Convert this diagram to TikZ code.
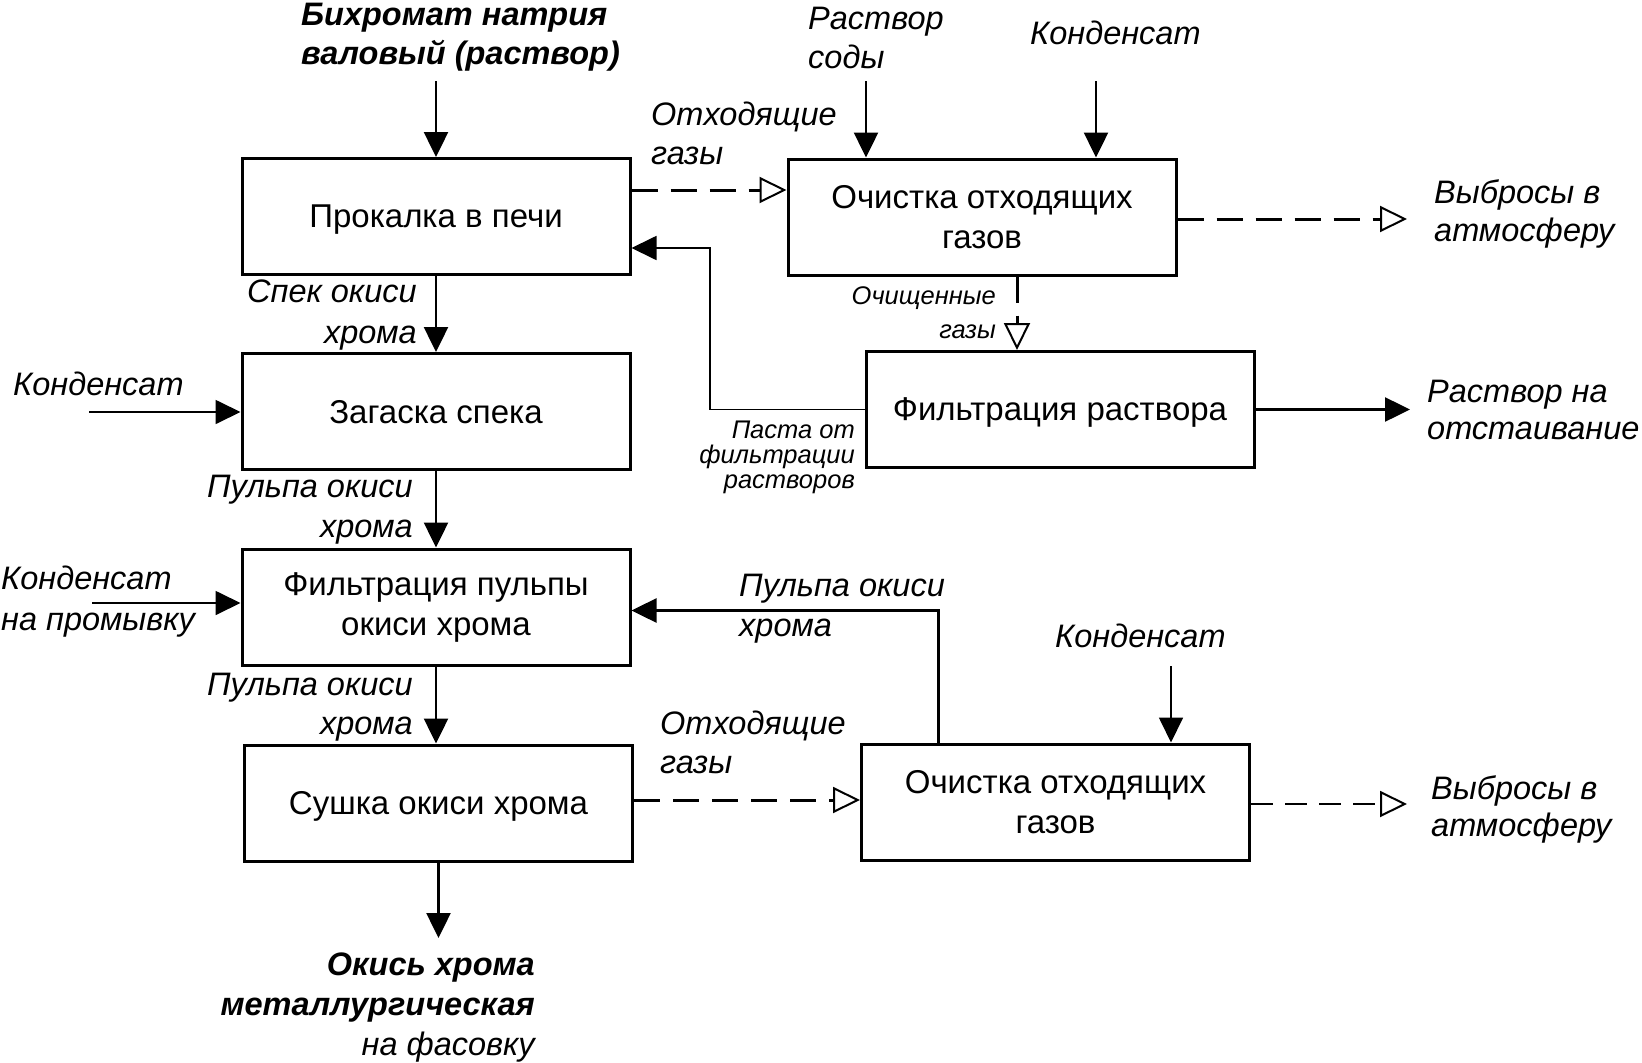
\documentclass[tikz,border=0pt]{standalone}
\usepackage{fontspec}
\setmainfont{Liberation Sans}
\usetikzlibrary{arrows.meta}
\begin{document}
\begin{tikzpicture}[x=1pt,y=-1pt,
  box/.style={draw, line width=3pt, minimum width=388pt, minimum height=116pt, inner sep=0pt, align=center, font=\fontsize{33}{40}\selectfont},
  onebox/.style={box, text depth=0pt},
  lab/.style={inner sep=0pt, font=\itshape\fontsize{32.5}{39}\selectfont},
  blab/.style={inner sep=0pt, font=\bfseries\itshape\fontsize{32.5}{39}\selectfont},
  slab/.style={inner sep=0pt, font=\itshape\fontsize{25.5}{26}\selectfont},
  arr/.style={line width=2.5pt, -{Triangle[length=25pt,width=24pt]}},
  thinarr/.style={line width=1.8pt, -{Triangle[length=25pt,width=24pt]}},
  dsh/.style={line width=3pt, dash pattern=on 26pt off 13pt, -{Triangle[length=27pt,width=26pt,fill=white,line width=2pt]}},
  dshthin/.style={line width=1.5pt, dash pattern=on 22pt off 12pt, -{Triangle[length=27pt,width=26pt,fill=white,line width=2pt]}}]
\useasboundingbox[fill=white] (0,0) rectangle (1642,1063);

% boxes
\node[onebox] (b1) at (436,216.5) {Прокалка в печи};
\node[onebox] (b2) at (436,411.5) {Загаска спека};
\node[box] (b3) at (436,607) {Фильтрация пульпы\\окиси хрома};
\node[onebox] (b4) at (438.5,803) {Сушка окиси хрома};
\node[box] (b5) at (982,217) {Очистка отходящих\\газов};
\node[onebox] (b6) at (1060,409.5) {Фильтрация раствора};
\node[box] (b7) at (1055.5,802) {Очистка отходящих\\газов};

% free ends
\coordinate (s1) at (436,81);
\coordinate (s2) at (89,412);
\coordinate (s3) at (92,603);
\coordinate (e1) at (438.5,938);
\coordinate (s4) at (866,81);
\coordinate (s5) at (1096,81);
\coordinate (e2) at (1407,219);
\coordinate (g2) at (1017,300);
\coordinate (r1) at (710,248);
\coordinate (e3) at (1410,409.5);
\coordinate (r2) at (938.5,610.5);
\coordinate (s6) at (1171,666);
\coordinate (e4) at (1407,804);
\coordinate (g1) at ([yshift=26.5pt]b1.east);
\coordinate (g3) at ([yshift=3pt]b4.east);

% connectors
\draw[arr] (s1) -- (b1.north);
\draw[arr] (b1) -- (b2);
\draw[thinarr] (s2) -- (s2 -| b2.west);
\draw[arr] (b2) -- (b3);
\draw[thinarr] (s3) -- (s3 -| b3.west);
\draw[arr] (b3.south) -- (b3.south |- b4.north);
\draw[arr] (b4.south) -- (e1);
\draw[dsh] (g1) -- (g1 -| b5.west);
\draw[arr] (s4) -- (s4 |- b5.north);
\draw[arr] (s5) -- (s5 |- b5.north);
\draw[dsh] (e2 -| b5.east) -- (e2);
\draw[dsh] (g2 |- b5.south) -- (g2 |- b6.north);
\draw[thinarr] (b6.west) -| (r1) -- (r1 -| b1.east);
\draw[arr] (b6) -- (e3);
\draw[arr] (r2 |- b7.north) -- (r2) -- (r2 -| b3.east);
\draw[thinarr] (s6) -- (s6 |- b7.north);
\draw[dsh] (g3) -- (g3 -| b7.west);
\draw[dshthin] (e4 -| b7.east) -- (e4);

% labels
\node[blab, anchor=base west] (t1a) at (301,25) {Бихромат натрия};
\node[blab, anchor=base west] (t1b) at (301,64) {валовый (раствор)};
\node[lab, anchor=base west] (t2a) at (651,125) {Отходящие};
\node[lab, anchor=base west] (t2b) at (651,164) {газы};
\node[lab, anchor=base west] (t3a) at (808,29) {Раствор};
\node[lab, anchor=base west] (t3b) at (808,68) {соды};
\node[lab, anchor=base west] (t4) at (1030,44) {Конденсат};
\node[lab, anchor=base west] (t5a) at (1434,203) {Выбросы в};
\node[lab, anchor=base west] (t5b) at (1434,241.5) {атмосферу};
\node[lab, anchor=base east] (t6a) at (417,302) {Спек окиси};
\node[lab, anchor=base east] (t6b) at (417,343) {хрома};
\node[lab, anchor=base west] (t7) at (13,395) {Конденсат};
\node[slab, anchor=base east] (t8a) at (996,304) {Очищенные};
\node[slab, anchor=base east] (t8b) at (996,338) {газы};
\node[lab, anchor=base west] (t9a) at (1427,402) {Раствор на};
\node[lab, anchor=base west] (t9b) at (1427,439) {отстаивание};
\node[slab, anchor=base east] (t10a) at (855,438) {Паста от};
\node[slab, anchor=base east] (t10b) at (855,463) {фильтрации};
\node[slab, anchor=base east] (t10c) at (855,488) {растворов};
\node[lab, anchor=base east] (t11a) at (413,497) {Пульпа окиси};
\node[lab, anchor=base east] (t11b) at (413,537) {хрома};
\node[lab, anchor=base west] (t12a) at (1,589.5) {Конденсат};
\node[lab, anchor=base west] (t12b) at (1,630) {на промывку};
\node[lab, anchor=base west] (t13a) at (739,596) {Пульпа окиси};
\node[lab, anchor=base west] (t13b) at (739,636) {хрома};
\node[lab, anchor=base east] (t14a) at (413,695) {Пульпа окиси};
\node[lab, anchor=base east] (t14b) at (413,734) {хрома};
\node[lab, anchor=base west] (t15) at (1055,647) {Конденсат};
\node[lab, anchor=base west] (t16a) at (660,734) {Отходящие};
\node[lab, anchor=base west] (t16b) at (660,773) {газы};
\node[lab, anchor=base west] (t17a) at (1431,799) {Выбросы в};
\node[lab, anchor=base west] (t17b) at (1431,836) {атмосферу};
\node[blab, anchor=base east] (t18a) at (535,975.5) {Окись хрома};
\node[blab, anchor=base east] (t18b) at (535,1015) {металлургическая};
\node[lab, anchor=base east] (t18c) at (535,1055) {на фасовку};
\end{tikzpicture}
\end{document}
